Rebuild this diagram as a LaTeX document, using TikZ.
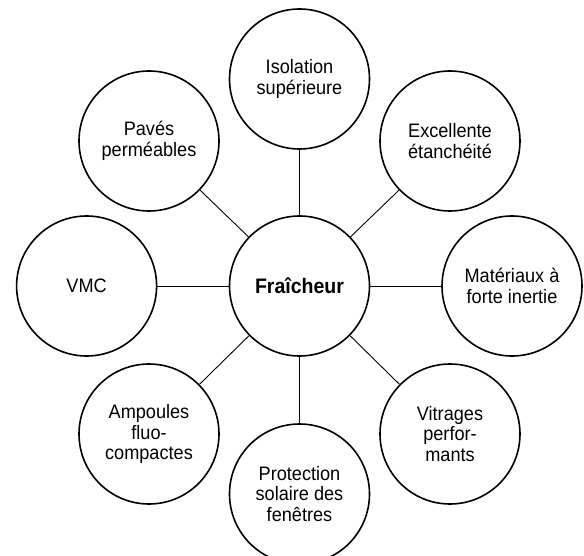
\documentclass[tikz,border=0pt]{standalone}
\usepackage{fontspec}
\setmainfont{Liberation Sans}[FakeStretch=0.93]
\usetikzlibrary{calc}

\begin{document}
\begin{tikzpicture}[x=1pt,y=-1pt,
		bulle/.style={draw, circle, line width=1.6pt, minimum size=140pt, inner sep=0pt,
			align=center, font=\fontsize{19.5}{20.5}\selectfont},
		lien/.style={line width=0.9pt}]
		\useasboundingbox (0,0) rectangle (584,556);
		
		\node[bulle, font=\fontsize{21}{22}\selectfont\bfseries] (fraicheur) at (299.5,286) {Fraîcheur};
		
		\node[bulle] (isolation) at (299.5,79) {Isolation\\supérieure};
		\node[bulle] (paves) at (149,141) {Pavés\\perméables};
		\node[bulle] (etanch) at (450,141) {Excellente\\étanchéité};
		\node[bulle] (vmc) at (86.6,286) {VMC};
		\node[bulle] (inertie) at (512,286) {Matériaux à\\forte inertie};
		\node[bulle] (ampoules) at (149,434) {Ampoules\\fluo-\\compactes};
		\node[bulle] (vitrages) at (450,434) {Vitrages\\perfor-\\mants};
		\node[bulle] (protection) at (299.5,494) {Protection\\solaire des\\fenêtres};
		
		\draw[lien] (fraicheur) -- (isolation);
		\draw[lien] (fraicheur) -- (paves);
		\draw[lien] (fraicheur) -- (etanch);
		\draw[lien] (fraicheur) -- (vmc);
		\draw[lien] (fraicheur) -- (inertie);
		\draw[lien] (fraicheur) -- (ampoules);
		\draw[lien] (fraicheur) -- (vitrages);
		\draw[lien] (fraicheur) -- (protection);
		
	\end{tikzpicture}
\end{document}
